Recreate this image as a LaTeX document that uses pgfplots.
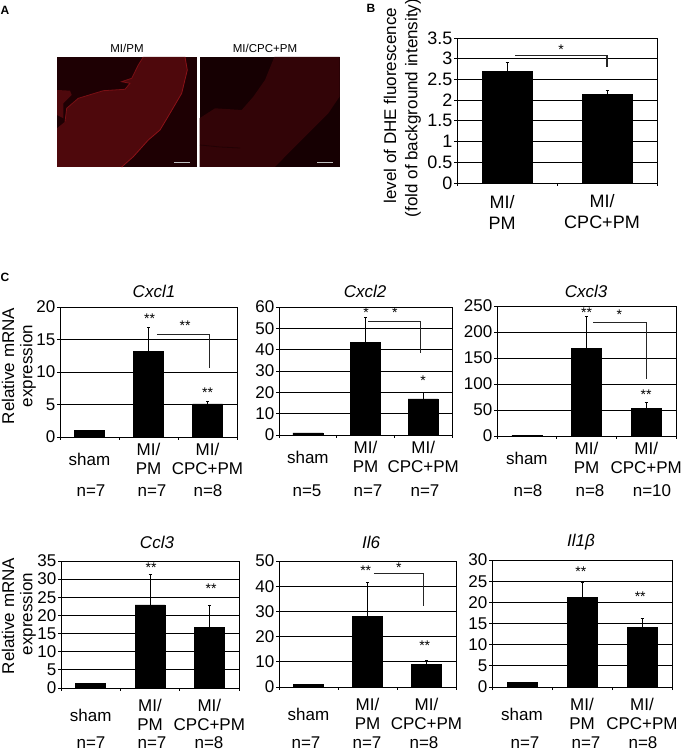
\documentclass[border=0pt]{standalone}
\usepackage{fontspec}
\setmainfont{Liberation Sans}
\usepackage{pgfplots}
\pgfplotsset{compat=1.18}

% 1 px = 1 pt, y measured from the top of the page
\newcommand{\T}[3]{\node[inner sep=0pt,align=center,font=\fontsize{17}{19}\selectfont] at (#1pt,752pt-#2pt) {#3};}
\newcommand{\Y}[3]{\node[inner sep=0pt,rotate=90,font=\fontsize{17}{19}\selectfont] at (#1pt,752pt-#2pt) {#3};}
\newcommand{\stars}[3]{\node[inner sep=0pt,font=\fontsize{14}{14}\selectfont] at (axis cs:#1,#2) {#3};}

\pgfplotsset{
  panel/.style n args={4}{
    at={(#1pt,752pt-#2pt)},anchor=south west,
    scale only axis,width=#3pt,height=#4pt,clip=false,
    xmin=0.5,xmax=3.5,ymin=0,
    xtick={1,2,3},minor xtick={0.5,1.5,2.5,3.5},
    xtick pos=bottom,ytick pos=left,tick align=outside,
    major x tick style={draw=none},
    tick style={black,line width=0.8pt},
    major tick length=3pt,minor tick length=3pt,
    ymajorgrids,grid style={black,line width=0.9pt},
    axis line style={black,line width=0.9pt},
    tick label style={font=\fontsize{17}{19}\selectfont},
    yticklabel style={/pgf/number format/assume math mode=true,/pgf/number format/fixed,inner sep=1.5pt},
    xticklabel style={align=center,anchor=center,yshift=-19pt},
    xticklabels={sham,{MI/\\PM},{MI/\\CPC+PM}},
  },
  lower/.style={xticklabel style={yshift=-5pt}},
  bars/.style={ybar,bar width=30pt,fill=black,draw=black,
    error bars/y dir=plus,error bars/y explicit,
    error bars/error bar style={black,line width=0.8pt},
    error bars/error mark options={black,rotate=90,mark size=1.5pt,line width=0.8pt}},
  br/.style={draw=black!85,line width=0.9pt,no markers,sharp plot},
  tissue/.style={draw=none,fill=#1,no markers,sharp plot},
  edge/.style={draw=#1,line width=0.8pt,no markers,sharp plot},
}

\definecolor{bgA}{RGB}{30,0,3}
\definecolor{tisA}{RGB}{78,8,12}
\definecolor{rimA}{RGB}{140,18,24}
\definecolor{bgB}{RGB}{22,0,2}
\definecolor{tisB}{RGB}{50,4,7}
\definecolor{rimB}{RGB}{34,2,4}

\begin{document}
\begin{tikzpicture}
\path[use as bounding box] (0,0) rectangle (683pt,752pt);

% panel A, the two sections, in page pixels
\begin{axis}[at={(0pt,0pt)},anchor=south west,scale only axis,width=683pt,height=752pt,
  xmin=0,xmax=683,ymin=0,ymax=752,y dir=reverse,axis lines=none,clip=false]
\addplot[tissue=bgA] coordinates {(57,57)(197,57)(197,167)(57,167)} -- cycle;
\addplot[tissue=tisA] coordinates {(57,128.3)(65,121.7)(66.7,108.3)(78.3,98.3)(103.3,90.7)(125,89.3)(130,83.3)(121.7,81.7)(131.7,78.3)(138.3,65)(143.3,57)(185,57)(187.3,70)(181.7,93.3)(170,113.3)(160,130)(148.3,140)(133.3,156.7)(121.7,167)(57,167)} -- cycle;
\addplot[tissue=tisA] coordinates {(57,90)(70,90.7)(71.7,95)(63.3,103.3)(63.3,118.3)(57,115)} -- cycle;
\addplot[edge=rimA] coordinates {(185,57)(187.3,70)(181.7,93.3)(170,113.3)(160,130)(148.3,140)(133.3,156.7)(121.7,167)};
\addplot[edge=rimA!70!tisA] coordinates {(65,121.7)(66.7,108.3)(78.3,98.3)(103.3,90.7)(125,89.3)(130,83.3)(121.7,81.7)(131.7,78.3)(138.3,65)(143.3,57)};
\addplot[br,draw=black!25,line width=1.5pt] coordinates {(174,162.7)(190,162.7)};
\addplot[tissue=bgB] coordinates {(199.5,57)(339.5,57)(339.5,167)(199.5,167)} -- cycle;
\addplot[tissue=tisB] coordinates {(199.5,118.3)(215,108.3)(241.7,110)(253.3,96.7)(265,80)(274.3,57)(339.5,57)(339.5,96.7)(328.3,113.3)(308.3,133.3)(288.3,153.3)(275,167)(199.5,167)} -- cycle;
\addplot[edge=rimB] coordinates {(200,145)(220,147)(240,148)};
\addplot[br,draw=black!25,line width=1.5pt] coordinates {(317,162.7)(333,162.7)};
\end{axis}

% panel B
\begin{axis}[panel={457}{183}{200}{145},xmax=2.5,ymax=3.5,ytick distance=0.5,
  xtick={1,2},minor xtick={0.5,1.5,2.5},
  xticklabels={{MI/\\PM},{MI/\\CPC+PM}},
  tick label style={font=\fontsize{18}{21}\selectfont},
  xticklabel style={yshift=-7pt,xshift=-5pt}]
\addplot[bars,bar width=50pt] coordinates {(1,2.69) +- (0,0.21) (2,2.14) +- (0,0.09)};
\addplot[br,line width=1.2pt] coordinates {(1.08,3.07)(2.0,3.07)(2.0,2.81)};
\stars{1.54}{3.21}{*}
\end{axis}

% panel C, upper row
\begin{axis}[panel={60}{437}{177}{130},ymax=20,ytick distance=5]
\addplot[bars] coordinates {(1,1.0) (2,13.2) +- (0,3.7) (3,5.1) +- (0,0.4)};
\addplot[br] coordinates {(2.14,15.85)(3.04,15.85)(3.04,10.6)};
\stars{2.02}{18.15}{**}\stars{3.0}{6.77}{**}\stars{2.62}{17.2}{**}
\end{axis}
\begin{axis}[panel={279}{435}{173}{128},ymax=60,ytick distance=10]
\addplot[bars] coordinates {(1,1.0) (2,43.4) +- (0,11.6) (3,16.9) +- (0,2.9)};
\addplot[br] coordinates {(2.04,53.4)(2.95,53.4)(2.95,38.4)};
\stars{2.01}{57.2}{*}\stars{2.51}{57.2}{*}\stars{3.0}{25.3}{*}
\end{axis}
\begin{axis}[panel={497}{436}{179}{130},ymax=250,ytick distance=50]
\addplot[bars] coordinates {(1,1.0) (2,168.6) +- (0,61.4) (3,53.4) +- (0,11.6)};
\addplot[br] coordinates {(2.11,219)(3.01,219)(3.01,109)};
\stars{2.0}{238}{**}\stars{2.55}{232.7}{*}\stars{3.0}{78.8}{**}
\end{axis}

% panel C, lower row
\begin{axis}[panel={61}{688}{178}{127},lower,ymax=35,ytick distance=5]
\addplot[bars] coordinates {(1,1.2) (2,22.9) +- (0,8.5) (3,16.7) +- (0,6.2)};
\stars{2.02}{33.1}{**}\stars{3.03}{27.3}{**}
\end{axis}
\begin{axis}[panel={279}{687}{177}{126},lower,ymax=50,ytick distance=10]
\addplot[bars] coordinates {(1,1.0) (2,27.9) +- (0,13.5) (3,9.1) +- (0,1.6)};
\addplot[br] coordinates {(2.11,45)(2.94,45)(2.94,32.1)};
\stars{1.97}{46.1}{**}\stars{2.53}{47.3}{*}\stars{2.97}{16.4}{**}
\end{axis}
\begin{axis}[panel={492}{687}{180}{127},lower,ymax=30,ytick distance=5]
\addplot[bars] coordinates {(1,1.1) (2,21.1) +- (0,3.5) (3,14.1) +- (0,2.1)};
\stars{1.98}{27.3}{**}\stars{2.97}{21.3}{**}
\end{axis}

% letters and captions
\node[font=\bfseries\fontsize{12}{12}\selectfont] at (5pt,752pt-10pt) {A};
\node[font=\bfseries\fontsize{12}{12}\selectfont] at (371pt,752pt-8pt) {B};
\node[font=\bfseries\fontsize{12}{12}\selectfont] at (5pt,752pt-277pt) {C};
\node[font=\fontsize{11.5}{12}\selectfont] at (127pt,752pt-48pt) {MI/PM};
\node[font=\fontsize{11.5}{12}\selectfont] at (265pt,752pt-48pt) {MI/CPC+PM};

\Y{390}{105.5}{level of DHE fluorescence}
\Y{413}{108}{(fold of background intensity)}
\Y{8}{366}{Relative mRNA}
\Y{28}{366}{expression}
\Y{8}{616}{Relative mRNA}
\Y{28}{614}{expression}

\T{154}{291}{\textit{Cxcl1}}
\T{365}{291}{\textit{Cxcl2}}
\T{586}{291}{\textit{Cxcl3}}
\T{157}{542}{\textit{Ccl3}}
\T{371}{542}{\textit{Il6}}
\T{581}{542}{\textit{Il1β}}

\T{91}{491}{n=7}\T{152}{491}{n=7}\T{208}{491}{n=8}
\T{307}{491}{n=5}\T{368}{491}{n=7}\T{425}{491}{n=7}
\T{528}{491}{n=8}\T{590}{491}{n=8}\T{652}{491}{n=10}
\T{91}{743}{n=7}\T{152}{743}{n=7}\T{209}{743}{n=8}
\T{306}{743}{n=7}\T{367}{743}{n=7}\T{424}{743}{n=8}
\T{525}{743}{n=7}\T{586}{743}{n=7}\T{643}{743}{n=8}
\end{tikzpicture}
\end{document}
